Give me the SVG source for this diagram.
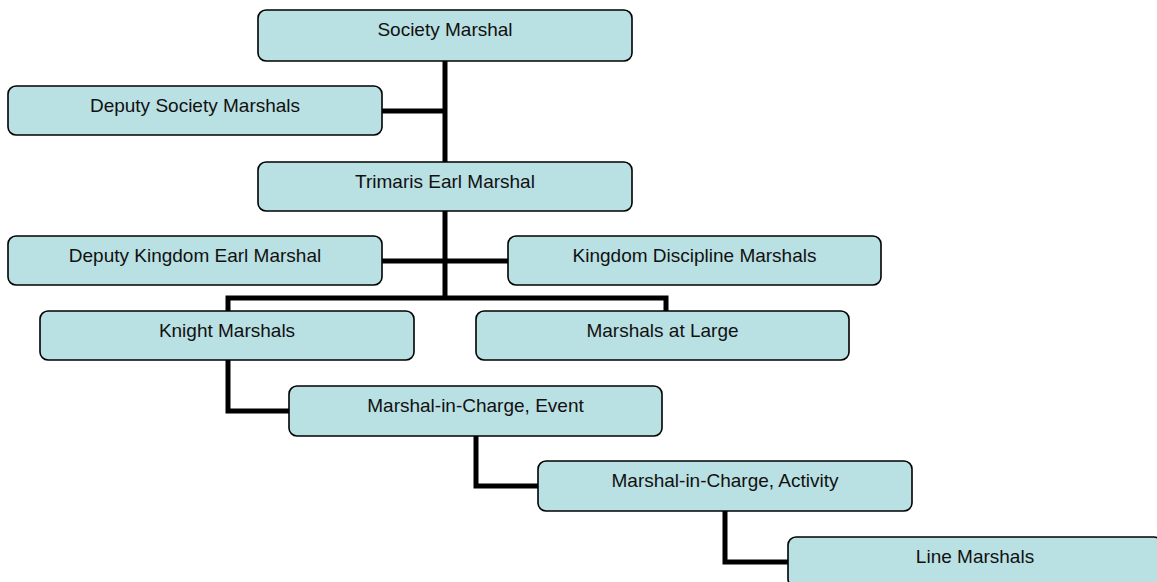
<svg xmlns="http://www.w3.org/2000/svg" width="1157" height="582" viewBox="0 0 1157 582">
<style>
.box{fill:#b9e0e3;stroke:#000;stroke-width:1.6}
.lbl{font-family:"Liberation Sans",Arial,sans-serif;font-size:19px;fill:#111;text-anchor:middle}
.con{fill:none;stroke:#000;stroke-width:5;stroke-linejoin:miter;stroke-linecap:butt}
</style>
<rect width="1157" height="582" fill="#fff"/>
<g id="connectors">
<path class="con" d="M445 61V162M382 111H445"/>
<path class="con" d="M445 211V298M382 261H508"/>
<path class="con" d="M228 311V298H666V311"/>
<path class="con" d="M228 360V411H289"/>
<path class="con" d="M476 436V486H538"/>
<path class="con" d="M725 511V562H788"/>
</g>
<g id="n1"><rect class="box" x="258" y="10" width="374" height="51" rx="8"/><text class="lbl" x="445" y="36">Society Marshal</text></g>
<g id="n2"><rect class="box" x="8" y="86" width="374" height="49" rx="8"/><text class="lbl" x="195" y="112">Deputy Society Marshals</text></g>
<g id="n3"><rect class="box" x="258" y="162" width="374" height="49" rx="8"/><text class="lbl" x="445" y="188">Trimaris Earl Marshal</text></g>
<g id="n4"><rect class="box" x="8" y="236" width="374" height="49" rx="8"/><text class="lbl" x="195" y="262">Deputy Kingdom Earl Marshal</text></g>
<g id="n5"><rect class="box" x="508" y="236" width="373" height="49" rx="8"/><text class="lbl" x="694.5" y="262">Kingdom Discipline Marshals</text></g>
<g id="n6"><rect class="box" x="40" y="311" width="374" height="49" rx="8"/><text class="lbl" x="227" y="337">Knight Marshals</text></g>
<g id="n7"><rect class="box" x="476" y="311" width="373" height="49" rx="8"/><text class="lbl" x="662.5" y="337">Marshals at Large</text></g>
<g id="n8"><rect class="box" x="289" y="386" width="373" height="50" rx="8"/><text class="lbl" x="475.5" y="412">Marshal-in-Charge, Event</text></g>
<g id="n9"><rect class="box" x="538" y="461" width="374" height="50" rx="8"/><text class="lbl" x="725" y="487">Marshal-in-Charge, Activity</text></g>
<g id="n10"><rect class="box" x="788" y="537" width="374" height="50" rx="8"/><text class="lbl" x="975" y="563">Line Marshals</text></g>
</svg>
